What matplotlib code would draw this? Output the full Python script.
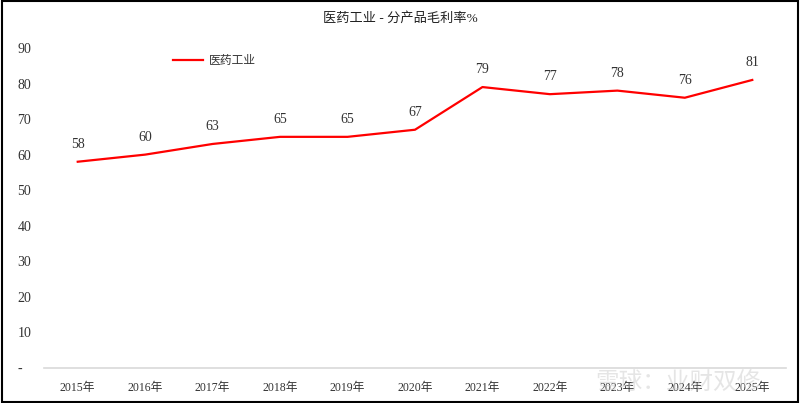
import matplotlib.pyplot as plt
from matplotlib.patches import Rectangle

# 数据
years = ["2015年", "2016年", "2017年", "2018年", "2019年", "2020年",
         "2021年", "2022年", "2023年", "2024年", "2025年"]
margin = [58, 60, 63, 65, 65, 67, 79, 77, 78, 76, 81]
yticks = [0, 10, 20, 30, 40, 50, 60, 70, 80, 90]
ytick_labels = ["-", "10", "20", "30", "40", "50", "60", "70", "80", "90"]

plt.rcParams['font.family'] = ['Liberation Serif', 'Noto Sans CJK SC']

fig = plt.figure(figsize=(8, 4.03), dpi=100)
ax = fig.add_axes([0.055, 0.087, 0.9275, 0.794])

x = list(range(len(years)))
ax.plot(x, margin, color="#ff0000", lw=1.6, label="医药工业")

for xi, v in zip(x, margin):
    ax.annotate(str(v), (xi, v), xytext=(0, 8), textcoords="offset points",
                ha="center", va="bottom", fontsize=10, color="#333333")

ax.set_xlim(-0.5, len(years) - 0.5)
ax.set_ylim(0, 90)
ax.set_xticks(x)
ax.set_xticklabels(years, fontsize=8.5, color="#333333")
ax.set_yticks(yticks)
ax.set_yticklabels(ytick_labels, fontsize=10, color="#333333")
ax.tick_params(length=0, pad=10)
ax.tick_params(axis="y", pad=19)
for s in ["top", "right", "left"]:
    ax.spines[s].set_visible(False)
ax.spines["bottom"].set_color("#d9d9d9")
ax.spines["bottom"].set_linewidth(1.2)
for lbl in ax.get_yticklabels():
    lbl.set_horizontalalignment("left")

leg = ax.legend(loc="upper left", bbox_to_anchor=(0.16, 1.01), frameon=False,
                fontsize=8.5, handlelength=2.5, handletextpad=0.5)
for t in leg.get_texts():
    t.set_color("#333333")

fig.text(0.5, 0.955, "医药工业 - 分产品毛利率%", ha="center", va="center",
         fontsize=9.5, color="#222222")

# 水印
fig.text(0.848, 0.05, "雪球：业财双修", ha="center", va="center",
         fontsize=17, color="#cccccc", alpha=0.5)

fig.patches.append(Rectangle((0.002, 0.003), 0.996, 0.994, transform=fig.transFigure,
                             fill=False, edgecolor="black", lw=1.5))

fig.savefig("out.png", dpi=100)
